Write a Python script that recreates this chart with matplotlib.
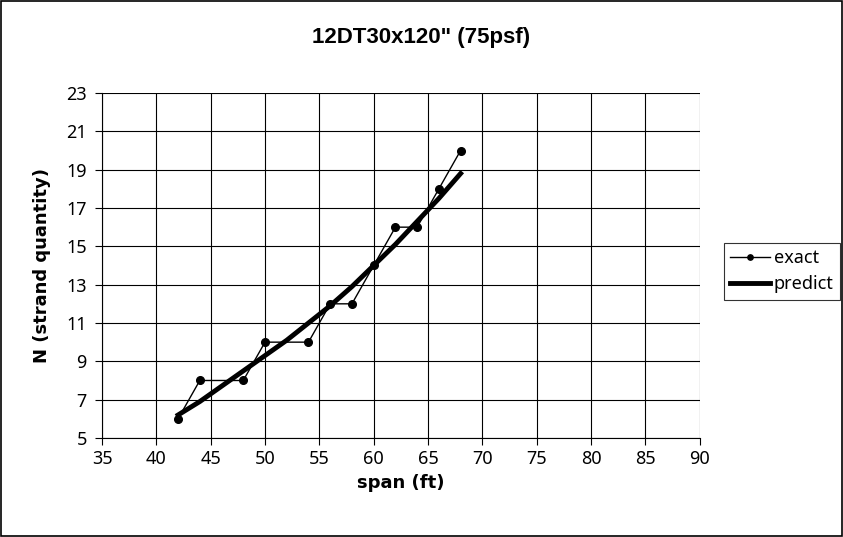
import matplotlib
matplotlib.use("Agg")
import matplotlib.pyplot as plt
from matplotlib.patches import Rectangle

# exact strand counts
span_exact = [42, 44, 48, 50, 54, 56, 58, 60, 62, 64, 66, 68]
n_exact = [6, 8, 8, 10, 10, 12, 12, 14, 16, 16, 18, 20]

# predicted curve
span_pred = [42, 44, 46, 48, 50, 52, 54, 56, 58, 60, 62, 64, 66, 68]
n_pred = [6.2, 6.9, 7.7, 8.5, 9.3, 10.1, 11.0, 11.9, 12.9, 14.0, 15.1, 16.3, 17.5, 18.8]

x_ticks = list(range(35, 91, 5))
y_ticks = list(range(5, 24, 2))

plt.rcParams["font.family"] = ["Noto Sans", "DejaVu Sans"]

fig = plt.figure(figsize=(8.43, 5.37), dpi=100)
ax = fig.add_axes([0.121, 0.1844, 0.709, 0.6424])

ax.plot(span_exact, n_exact, color="black", linewidth=1.0,
        marker="o", markersize=5.5, label="exact", zorder=3)
ax.plot(span_pred, n_pred, color="black", linewidth=3.5,
        label="predict", zorder=4)

ax.set_xlim(35, 90)
ax.set_ylim(5, 23)
ax.set_xticks(x_ticks)
ax.set_yticks(y_ticks)
ax.grid(True, color="black", linewidth=0.8)
ax.tick_params(direction="out", length=5, width=0.8, labelsize=13)
ax.tick_params(axis="x", pad=4)
ax.tick_params(axis="y", pad=6)
for side in ("top", "right"):
    ax.spines[side].set_visible(False)
for side in ("left", "bottom"):
    ax.spines[side].set_linewidth(0.8)

ax.set_xlabel("span (ft)", fontsize=13, fontweight="bold", family="DejaVu Sans",
              labelpad=4)
ax.set_ylabel("N (strand quantity)", fontsize=13, fontweight="bold",
              family="DejaVu Sans", labelpad=11)

fig.text(0.5, 1 - 37 / 537, "12DT30x120\" (75psf)", ha="center", va="center",
         fontsize=16, fontweight="bold", family="Liberation Sans")

leg = fig.legend(loc="upper left", bbox_to_anchor=(724 / 843, 1 - 243 / 537),
                 fontsize=13, frameon=True, fancybox=False, edgecolor="black",
                 handlelength=2.2, handletextpad=0.2, labelspacing=0.45,
                 borderpad=0.35, borderaxespad=0, markerscale=0.7)
leg.get_frame().set_linewidth(0.8)

fig.patches.append(Rectangle((0.001, 0.001), 0.998, 0.997, transform=fig.transFigure,
                             fill=False, edgecolor="black", linewidth=1.2))

fig.savefig("out.png", dpi=100)
